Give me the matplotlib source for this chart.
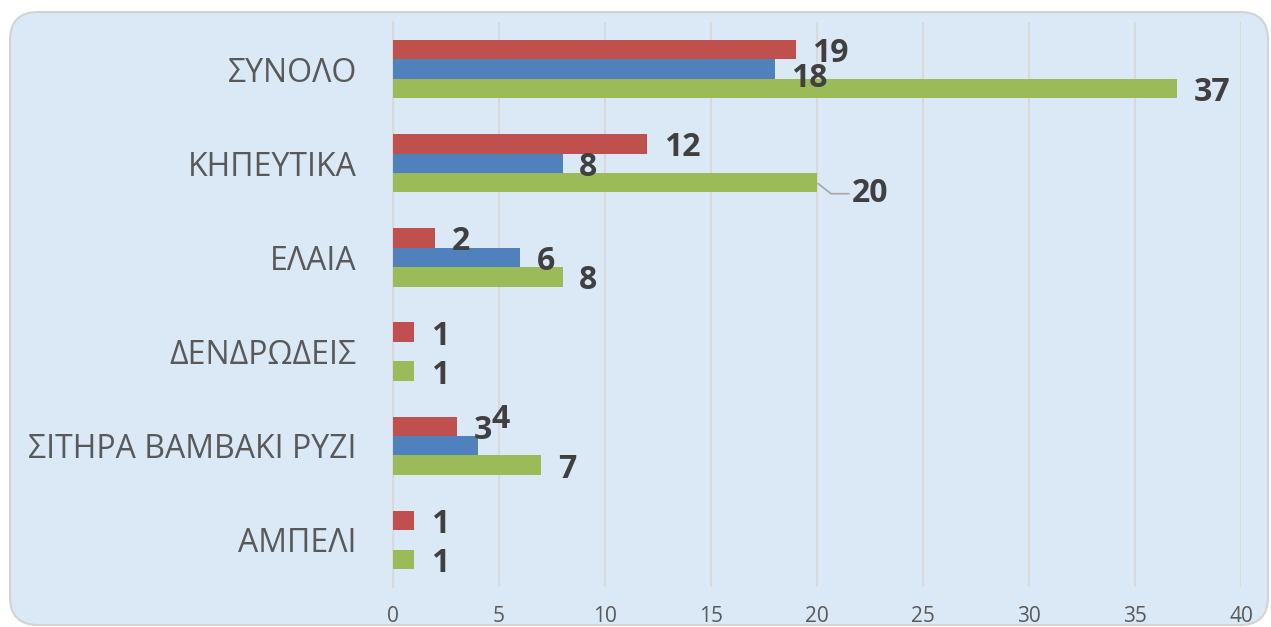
import matplotlib.pyplot as plt
from matplotlib.patches import FancyBboxPatch
from matplotlib.transforms import IdentityTransform
import numpy as np

# Категории (снизу вверх) и значения трёх рядов
categories = ['ΑΜΠΕΛΙ', 'ΣΙΤΗΡΑ ΒΑΜΒΑΚΙ ΡΥΖΙ', 'ΔΕΝΔΡΩΔΕΙΣ', 'ΕΛΑΙΑ', 'ΚΗΠΕΥΤΙΚΑ', 'ΣΥΝΟΛΟ']
red_values = [1, 3, 1, 2, 12, 19]
blue_values = [None, 4, None, 6, 8, 18]
green_values = [1, 7, 1, 8, 20, 37]
x_ticks = [0, 5, 10, 15, 20, 25, 30, 35, 40]


def add_labels(y_pos, values, moved=None, skip=()):
    """Подписывает концы столбцов значениями"""
    moved = moved or {}
    for i, v in enumerate(values):
        if v is None or i in skip:
            continue
        dx, dy = moved.get(i, (12, 0))
        plt.annotate(str(v), xy=(v, y_pos[i]), xytext=(dx, dy), textcoords='offset points',
                     ha='left', va='center_baseline', fontsize=23, fontweight='bold', color='#404040')


def plot_bars(cats, red, blue, green):
    """Строит горизонтальную столбчатую диаграмму"""
    fig = plt.figure(figsize=(12.71, 6.27), dpi=100)
    fig.patch.set_facecolor('white')

    # Фон-панель со скруглёнными углами
    panel = FancyBboxPatch((10, 2), 1258, 613, boxstyle='round,pad=0,rounding_size=28',
                           transform=IdentityTransform(), facecolor='#dbe8f6',
                           edgecolor='#d3d3d3', linewidth=1.5, zorder=0)
    fig.add_artist(panel)

    plt.axes([0.3092, 0.0638, 0.6672, 0.9011], facecolor='none')
    y = np.arange(len(cats))
    h = 0.207  # толщина одного столбца

    blue_plot = [np.nan if v is None else v for v in blue]
    plt.barh(y + h, red, height=h, color='#c0504d', zorder=3)
    plt.barh(y, blue_plot, height=h, color='#4f81bd', zorder=3)
    plt.barh(y - h, green, height=h, color='#9bbb59', zorder=3)

    add_labels(y + h, red)
    add_labels(y, blue, moved={1: (10, 22), 5: (12, -4)})
    add_labels(y - h, green, skip=(4,))

    # Подпись "20" отодвинута и соединена выноской
    plt.annotate(str(green[4]), xy=(green[4], y[4] - h), xytext=(25, -5), textcoords='offset points',
                 ha='left', va='center_baseline', fontsize=23, fontweight='bold', color='#404040',
                 arrowprops=dict(arrowstyle='-', color='#a6a6a6', lw=1.2, relpos=(0, 0.5),
                                 shrinkA=0, shrinkB=1, connectionstyle='angle,angleA=0,angleB=-38,rad=0'))

    plt.xlim(0, 40)
    plt.ylim(-0.5, len(cats) - 0.5)
    plt.xticks(x_ticks, [str(t) for t in x_ticks], fontsize=15, color='#595959')
    plt.yticks(y, cats, fontsize=23, color='#595959')
    plt.tick_params(axis='x', length=0, pad=14)
    plt.tick_params(axis='y', length=0, pad=26)
    plt.grid(axis='x', color='#d9d9d9', linewidth=1.5, zorder=1)

    ax = plt.gca()
    for side in ['top', 'right', 'bottom']:
        ax.spines[side].set_visible(False)
    ax.spines['left'].set_color('#d9d9d9')
    ax.spines['left'].set_linewidth(1.5)
    ax.spines['left'].set_zorder(2)

    plt.savefig('out.png', dpi=100)


if __name__ == "__main__":
    plt.rcParams['font.family'] = ['Open Sans', 'DejaVu Sans']
    plot_bars(categories, red_values, blue_values, green_values)
